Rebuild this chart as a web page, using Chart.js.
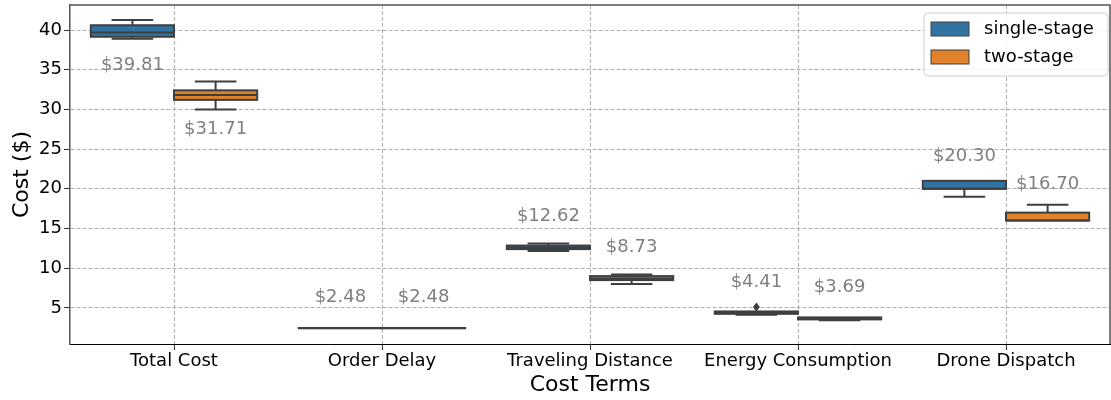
<!DOCTYPE html>
<html>
<head>
<meta charset="utf-8">
<script src="https://cdn.jsdelivr.net/npm/chart.js@4"></script>
<style>
  html, body { margin: 0; padding: 0; background: #fff; }
  #wrap { width: 1111px; height: 400px; }
</style>
</head>
<body>
<div id="wrap"><canvas id="costChart"></canvas></div>
<script>
const categories = ['Total Cost', 'Order Delay', 'Traveling Distance', 'Energy Consumption', 'Drone Dispatch'];
const yTicks = [5, 10, 15, 20, 25, 30, 35, 40];

// single-stage box stats
const singleQ1 = [39.15, 2.43, 12.40, 4.25, 20.0];
const singleMed = [39.70, 2.45, 12.60, 4.40, 20.0];
const singleQ3 = [40.60, 2.47, 12.85, 4.55, 21.0];
const singleLow = [38.90, 2.42, 12.15, 4.15, 19.0];
const singleHigh = [41.25, 2.48, 13.10, 4.60, 21.0];
const singleMean = [39.81, 2.48, 12.62, 4.41, 20.30];
const singleFliers = [[], [], [], [5.1], []];

// two-stage box stats
const twoQ1 = [31.20, 2.43, 8.50, 3.55, 16.0];
const twoMed = [31.80, 2.45, 8.70, 3.70, 16.0];
const twoQ3 = [32.40, 2.47, 9.00, 3.80, 17.0];
const twoLow = [30.00, 2.42, 8.00, 3.45, 16.0];
const twoHigh = [33.50, 2.48, 9.20, 3.85, 18.0];
const twoMean = [31.71, 2.48, 8.73, 3.69, 16.70];
const twoFliers = [[], [], [], [], []];

const stats = [
    { med: singleMed, low: singleLow, high: singleHigh, mean: singleMean, fliers: singleFliers },
    { med: twoMed, low: twoLow, high: twoHigh, mean: twoMean, fliers: twoFliers }
];

const EDGE = '#3f3f3f';
const FONT = "'DejaVu Sans', sans-serif";

// box outlines, whiskers, medians, fliers, value labels and the legend box
const boxExtras = {
    id: 'boxExtras',
    afterDatasetsDraw(chart) {
        const ctx = chart.ctx;
        const y = chart.scales.y;
        ctx.save();
        ctx.strokeStyle = EDGE;
        ctx.fillStyle = EDGE;
        ctx.lineWidth = 2;
        chart.data.datasets.forEach((ds, d) => {
            const s = stats[d];
            chart.getDatasetMeta(d).data.forEach((bar, i) => {
                const cx = bar.x;
                const half = bar.width / 2;
                const cap = bar.width / 4;
                const top = Math.min(bar.y, bar.base);
                const bottom = Math.max(bar.y, bar.base);
                const yHi = y.getPixelForValue(s.high[i]);
                const yLo = y.getPixelForValue(s.low[i]);
                const yMed = y.getPixelForValue(s.med[i]);
                ctx.strokeRect(cx - half, top, bar.width, bottom - top);
                ctx.beginPath();
                if (yHi < top - 0.5) {
                    ctx.moveTo(cx, top); ctx.lineTo(cx, yHi);
                    ctx.moveTo(cx - cap, yHi); ctx.lineTo(cx + cap, yHi);
                }
                if (yLo > bottom + 0.5) {
                    ctx.moveTo(cx, bottom); ctx.lineTo(cx, yLo);
                    ctx.moveTo(cx - cap, yLo); ctx.lineTo(cx + cap, yLo);
                }
                ctx.moveTo(cx - half, yMed); ctx.lineTo(cx + half, yMed);
                ctx.stroke();
                s.fliers[i].forEach(v => {
                    const py = y.getPixelForValue(v);
                    ctx.beginPath();
                    ctx.moveTo(cx, py - 4.5);
                    ctx.lineTo(cx + 3.5, py);
                    ctx.lineTo(cx, py + 4.5);
                    ctx.lineTo(cx - 3.5, py);
                    ctx.closePath();
                    ctx.fill();
                });
            });
        });
        ctx.restore();
    },
    afterDraw(chart) {
        const ctx = chart.ctx;
        const y = chart.scales.y;
        const ca = chart.chartArea;
        ctx.save();

        // top and right spines
        ctx.strokeStyle = '#555';
        ctx.lineWidth = 1.5;
        ctx.beginPath();
        ctx.moveTo(ca.left, ca.top);
        ctx.lineTo(ca.right, ca.top);
        ctx.lineTo(ca.right, ca.bottom);
        ctx.stroke();

        // mean labels
        ctx.font = '18px ' + FONT;
        ctx.fillStyle = '#808080';
        ctx.textAlign = 'center';
        ctx.textBaseline = 'middle';
        chart.data.datasets.forEach((ds, d) => {
            const s = stats[d];
            chart.getDatasetMeta(d).data.forEach((bar, i) => {
                const off = i === 0 ? -4.2 : 3.85;
                ctx.fillText('$' + s.mean[i].toFixed(2), bar.x, y.getPixelForValue(s.mean[i] + off));
            });
        });

        // legend
        const lw = 184, lh = 63;
        const lx = ca.right - lw - 2, ly = ca.top + 8;
        ctx.beginPath();
        ctx.roundRect(lx, ly, lw, lh, 4);
        ctx.fillStyle = 'rgba(255,255,255,0.85)';
        ctx.fill();
        ctx.strokeStyle = '#d0d0d0';
        ctx.lineWidth = 1;
        ctx.stroke();
        ctx.font = '18px ' + FONT;
        ctx.textAlign = 'left';
        chart.data.datasets.forEach((ds, d) => {
            const ry = ly + 9 + d * 28;
            ctx.fillStyle = ds.backgroundColor;
            ctx.fillRect(lx + 7, ry, 38, 14);
            ctx.strokeStyle = EDGE;
            ctx.strokeRect(lx + 7, ry, 38, 14);
            ctx.fillStyle = '#000';
            ctx.fillText(ds.label, lx + 60, ry + 7);
        });
        ctx.restore();
    }
};

const gridStyle = {
    color: '#b0b0b0',
    lineWidth: 1,
    tickLength: 6,
    tickColor: '#333',
    tickBorderDash: []
};

new Chart(document.getElementById('costChart'), {
    type: 'bar',
    data: {
        labels: categories,
        datasets: [
            {
                label: 'single-stage',
                data: singleQ1.map((v, i) => [v, singleQ3[i]]),
                backgroundColor: '#3274a1',
                borderWidth: 0
            },
            {
                label: 'two-stage',
                data: twoQ1.map((v, i) => [v, twoQ3[i]]),
                backgroundColor: '#e1812c',
                borderWidth: 0
            }
        ]
    },
    options: {
        responsive: true,
        maintainAspectRatio: false,
        animation: false,
        categoryPercentage: 0.8,
        barPercentage: 1.0,
        layout: { padding: { top: 5, right: 1, left: 0, bottom: 0 } },
        plugins: {
            legend: { display: false },
            tooltip: { enabled: false }
        },
        scales: {
            x: {
                z: 1,
                grid: Object.assign({ offset: false }, gridStyle),
                border: { color: '#000', width: 1, dash: [4, 2] },
                ticks: { color: '#000', padding: 1, maxRotation: 0, font: { family: FONT, size: 18 } },
                title: {
                    display: true,
                    text: 'Cost Terms',
                    color: '#000',
                    padding: { top: 0, bottom: 2 },
                    font: { family: FONT, size: 22 }
                },
                afterFit(s) { s.height = 56; s.paddingLeft = 0; s.paddingRight = 0; }
            },
            y: {
                z: 1,
                min: 0.45,
                max: 43.15,
                grid: gridStyle,
                border: { color: '#555', width: 1.5, dash: [4, 2] },
                afterBuildTicks(s) { s.ticks = yTicks.map(v => ({ value: v })); },
                ticks: { color: '#000', padding: 2, font: { family: FONT, size: 18 } },
                title: {
                    display: true,
                    text: 'Cost ($)',
                    color: '#000',
                    padding: { top: 9, bottom: 0 },
                    font: { family: FONT, size: 22 }
                },
                afterFit(s) { s.width = 70; s.paddingTop = 0; s.paddingBottom = 0; }
            }
        }
    },
    plugins: [boxExtras]
});
</script>
</body>
</html>
